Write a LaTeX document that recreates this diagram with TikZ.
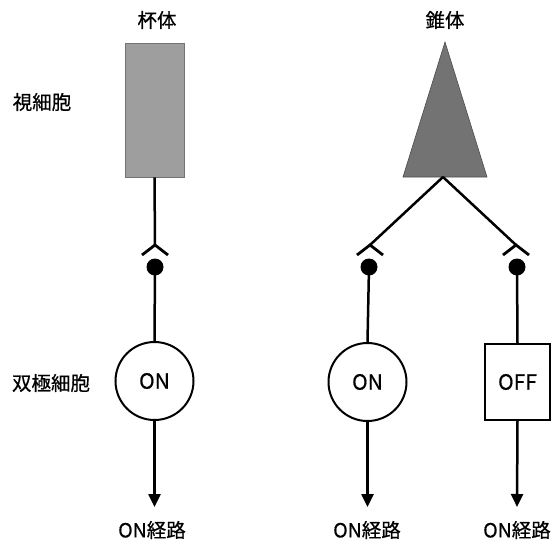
\documentclass[tikz,border=0pt]{standalone}
\usepackage{fontspec}
\setmainfont{Noto Sans CJK JP}[FakeBold=0.6]
\usetikzlibrary{arrows.meta}
\begin{document}
\begin{tikzpicture}[x=1pt,y=-1pt,
  wire/.style={line width=2.5pt},
  arr/.style={wire,-{Triangle[length=13pt,width=12pt]}},
  lbl/.style={font=\fontsize{19.5}{22}\selectfont, inner sep=0pt},
  syndot/.style={circle,fill=black,minimum size=17pt,inner sep=0pt},
  caret/.style={line width=2.8pt,line join=miter},
  cellcirc/.style={circle,draw,line width=2pt,minimum size=78pt,inner sep=0pt,font=\fontsize{21}{22}\selectfont},
  cellsq/.style={rectangle,draw,line width=2pt,minimum width=65pt,minimum height=76pt,inner sep=0pt,font=\fontsize{21}{22}\selectfont}]
\useasboundingbox (0,0) rectangle (558,544);

% labels
\node[lbl] (trod) at (157,20) {杯体};
\node[lbl] (tcone) at (445,20) {錐体};
\node[lbl] (tphoto) at (42,102) {視細胞};
\node[lbl] (tbip) at (51,383) {双極細胞};

% rod
\node[rectangle,fill=black!38,draw=black!55,line width=0.6pt,minimum width=59pt,minimum height=134pt,inner sep=0pt] (rod) at (154.5,110) {};
\coordinate (rapex) at (155,245);
\node[syndot] (rdot) at (155,267) {};
\draw[wire] (rod.south) -- (rapex);
\draw[caret] ([shift={(-13,10)}]rapex) -- (rapex) -- ([shift={(13,10)}]rapex);
\node[cellcirc] (bip1) at (154.5,381) {ON};
\draw[wire] (rdot.center) -- (bip1.north);
\coordinate (e1) at (154.5,507);
\draw[arr] (bip1.south) -- (e1);
\node[lbl] (o1) at (152,530) {ON経路};

% cone
\coordinate (ctop) at (445,42);
\coordinate (cbl) at (403,177);
\coordinate (cbr) at (487,177);
\coordinate (cbase) at (443,177);
\fill[black!55] (ctop) -- (cbr) -- (cbl) -- cycle;
\draw[black!70,line width=0.6pt] (ctop) -- (cbr) -- (cbl) -- cycle;

\coordinate (lapex) at (370,245);
\coordinate (rapex2) at (516,245);
\draw[wire] (cbase) -- (lapex);
\draw[wire] (cbase) -- (rapex2);
\draw[caret] ([shift={(-13,10)}]lapex) -- (lapex) -- ([shift={(13,10)}]lapex);
\draw[caret] ([shift={(-13,10)}]rapex2) -- (rapex2) -- ([shift={(13,10)}]rapex2);
\node[syndot] (ldot) at (369,267) {};
\node[syndot] (rdot2) at (517,267) {};

\node[cellcirc] (bip2) at (367.5,382) {ON};
\node[cellsq] (bip3) at (517.5,382) {OFF};
\draw[wire] (ldot.center) -- (bip2.north);
\draw[wire] (rdot2.center) -- (bip3.north);
\coordinate (e2) at (367.5,507);
\coordinate (e3) at (517,507);
\draw[arr] (bip2.south) -- (e2);
\draw[arr] (bip3.south) -- (e3);
\node[lbl] (o2) at (367,530) {ON経路};
\node[lbl] (o3) at (517,530) {ON経路};
\end{tikzpicture}
\end{document}
